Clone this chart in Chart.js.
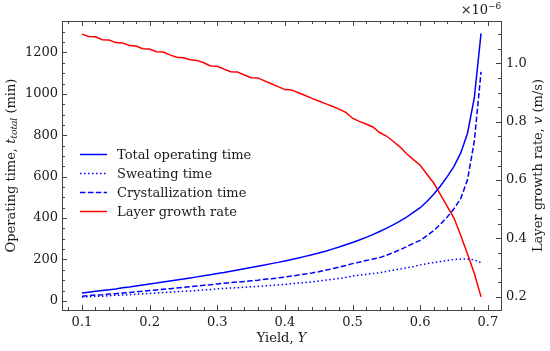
<!DOCTYPE html>
<html lang="en">
<head>
  <meta charset="UTF-8">
  <title>Operating time and layer growth rate vs yield</title>
  <script src="https://cdn.jsdelivr.net/npm/chart.js"></script>
  <style>
    html, body { margin: 0; padding: 0; background: #fff; }
    #wrap { width: 550px; height: 351px; }
  </style>
</head>
<body>
  <div id="wrap"><canvas id="myChart" width="550" height="351"></canvas></div>
  <script>
// yield Y (x axis)
const yieldY = [0.10, 0.11, 0.12, 0.13, 0.14, 0.15, 0.16, 0.17, 0.18, 0.19,
  0.20, 0.21, 0.22, 0.23, 0.24, 0.25, 0.26, 0.27, 0.28, 0.29,
  0.30, 0.31, 0.32, 0.33, 0.34, 0.35, 0.36, 0.37, 0.38, 0.39,
  0.40, 0.41, 0.42, 0.43, 0.44, 0.45, 0.46, 0.47, 0.48, 0.49,
  0.50, 0.51, 0.52, 0.53, 0.54, 0.55, 0.56, 0.57, 0.58, 0.59,
  0.60, 0.61, 0.62, 0.63, 0.64, 0.65, 0.66, 0.67, 0.68, 0.69];

// operating times (min)
const totalTime = [38, 42, 46, 50, 54, 58, 63, 67, 72, 77,
  82, 86, 91, 96, 101, 106, 111, 116, 121, 126,
  132, 137, 143, 149, 155, 161, 167, 173, 180, 186,
  193, 200, 207, 215, 223, 231, 240, 250, 260, 271,
  282, 294, 307, 320, 335, 350, 367, 385, 405, 427,
  450, 480, 515, 555, 600, 650, 715, 810, 980, 1292];

const sweatTime = [19, 20, 22, 23, 25, 27, 28, 30, 32, 34,
  36, 38, 40, 42, 44, 46, 48, 50, 53, 55,
  58, 60, 62, 64, 66, 68, 70, 72, 75, 77,
  80, 83, 86, 89, 92, 96, 100, 104, 108, 113,
  120, 124, 128, 132, 136, 142, 148, 154, 160, 166,
  174, 180, 185, 190, 195, 200, 202, 202, 198, 184];

const crystTime = [23, 25, 28, 30, 33, 35, 38, 41, 44, 47,
  50, 53, 56, 59, 62, 65, 68, 72, 75, 78,
  82, 85, 88, 91, 94, 97, 100, 104, 107, 111,
  115, 120, 125, 130, 135, 141, 148, 155, 163, 171,
  180, 187, 195, 202, 209, 220, 233, 247, 262, 278,
  292, 315, 340, 370, 405, 445, 495, 585, 770, 1106];

// layer growth rate, in 1e-6 m/s
const growthRate = [1.100, 1.092, 1.091, 1.081, 1.080, 1.071, 1.070, 1.061, 1.059, 1.050,
  1.049, 1.040, 1.039, 1.029, 1.021, 1.019, 1.012, 1.010, 1.002, 0.991,
  0.990, 0.980, 0.971, 0.970, 0.960, 0.951, 0.950, 0.940, 0.930, 0.920,
  0.910, 0.909, 0.899, 0.890, 0.880, 0.871, 0.862, 0.853, 0.843, 0.832,
  0.812, 0.801, 0.792, 0.782, 0.763, 0.751, 0.733, 0.714, 0.690, 0.670,
  0.651, 0.620, 0.590, 0.550, 0.510, 0.470, 0.410, 0.347, 0.281, 0.200];

const xTicks = [0.1, 0.2, 0.3, 0.4, 0.5, 0.6, 0.7];
const yTicks = [0, 200, 400, 600, 800, 1000, 1200];
const y1Ticks = [0.2, 0.4, 0.6, 0.8, 1.0];

const serif = "'DejaVu Serif', serif";
const pts = arr => arr.map((v, i) => ({ x: yieldY[i], y: v }));

// spines, inward ticks, legend and rich-text titles
const decor = {
  id: 'decor',
  afterDraw(chart) {
    const ctx = chart.ctx;
    const a = chart.chartArea;
    const sx = chart.scales.x, sy = chart.scales.y, sy1 = chart.scales.y1;
    ctx.save();
    ctx.strokeStyle = '#444';
    ctx.lineWidth = 1;
    ctx.strokeRect(Math.round(a.left) + 0.5, Math.round(a.top) + 0.5,
      Math.round(a.right - a.left), Math.round(a.bottom - a.top));

    function tickX(v, len) {
      const p = Math.round(sx.getPixelForValue(v)) + 0.5;
      ctx.beginPath();
      ctx.moveTo(p, a.bottom); ctx.lineTo(p, a.bottom - len);
      ctx.moveTo(p, a.top); ctx.lineTo(p, a.top + len);
      ctx.stroke();
    }
    function tickY(scale, v, len, left) {
      const p = Math.round(scale.getPixelForValue(v)) + 0.5;
      ctx.beginPath();
      if (left) { ctx.moveTo(a.left, p); ctx.lineTo(a.left + len, p); }
      else { ctx.moveTo(a.right, p); ctx.lineTo(a.right - len, p); }
      ctx.stroke();
    }
    for (let k = 4; k <= 35; k++) {
      const v = k * 0.02;
      if (v < sx.min || v > sx.max) continue;
      tickX(v, k % 5 === 0 ? 5 : 3);
    }
    for (let v = 0; v <= 1350; v += 50) tickY(sy, v, v % 200 === 0 ? 5 : 3, true);
    for (let k = 4; k <= 22; k++) {
      const v = k * 0.05;
      if (v < sy1.min || v > sy1.max) continue;
      tickY(sy1, v, k % 4 === 0 ? 5 : 3, false);
    }

    // legend
    const items = [
      { label: 'Total operating time', dash: [] },
      { label: 'Sweating time', dash: [1.5, 2.5] },
      { label: 'Crystallization time', dash: [5.5, 2.4] },
      { label: 'Layer growth rate', dash: [], red: true }
    ];
    ctx.font = '13px ' + serif;
    ctx.textBaseline = 'middle';
    ctx.textAlign = 'left';
    items.forEach((it, i) => {
      const y = 154.5 + i * 19;
      ctx.strokeStyle = it.red ? '#ff0000' : '#0000ff';
      ctx.lineWidth = 1.5;
      ctx.setLineDash(it.dash);
      ctx.beginPath(); ctx.moveTo(80, y); ctx.lineTo(107, y); ctx.stroke();
      ctx.setLineDash([]);
      ctx.fillStyle = '#1a1a1a';
      ctx.fillText(it.label, 117, y + 1);
    });

    function rich(parts, x, y, rot) {
      ctx.save();
      ctx.translate(x, y);
      if (rot) ctx.rotate(rot);
      ctx.textBaseline = 'middle';
      ctx.textAlign = 'left';
      let w = 0;
      parts.forEach(p => { ctx.font = p.f; w += ctx.measureText(p.t).width; });
      let cx = -w / 2;
      parts.forEach(p => {
        ctx.font = p.f;
        ctx.fillText(p.t, cx, p.dy || 0);
        cx += ctx.measureText(p.t).width;
      });
      ctx.restore();
    }
    ctx.fillStyle = '#1a1a1a';
    const n = '13px ' + serif, it = 'italic 13px ' + serif, sm = 'italic 9px ' + serif;
    const midY = (a.top + a.bottom) / 2;
    rich([{ t: 'Yield, ', f: n }, { t: 'Y', f: it }], (a.left + a.right) / 2, 339, 0);
    rich([{ t: 'Operating time, ', f: n }, { t: 't', f: it }, { t: 'total', f: sm, dy: 3 }, { t: ' (min)', f: n }],
      12, midY, -Math.PI / 2);
    rich([{ t: 'Layer growth rate, ', f: n }, { t: 'v', f: it }, { t: ' (m/s)', f: n }],
      539, midY, -Math.PI / 2);
    rich([{ t: '\u00d710', f: n }, { t: '\u22126', f: '9px ' + serif, dy: -4 }], 481, 11, 0);
    ctx.restore();
  }
};

const tickFont = { family: serif, size: 13 };
const ctx = document.getElementById('myChart').getContext('2d');
new Chart(ctx, {
  type: 'line',
  data: {
    datasets: [
      { label: 'Total operating time', data: pts(totalTime), yAxisID: 'y',
        borderColor: '#0000ff', borderWidth: 1.5 },
      { label: 'Sweating time', data: pts(sweatTime), yAxisID: 'y',
        borderColor: '#0000ff', borderWidth: 1.5, borderDash: [1.5, 2.5] },
      { label: 'Crystallization time', data: pts(crystTime), yAxisID: 'y',
        borderColor: '#0000ff', borderWidth: 1.5, borderDash: [5.5, 2.4] },
      { label: 'Layer growth rate', data: pts(growthRate), yAxisID: 'y1',
        borderColor: '#ff0000', borderWidth: 1.5 }
    ]
  },
  options: {
    responsive: false,
    animation: false,
    layout: { padding: { top: 21, left: 0, right: 0, bottom: 0 } },
    elements: { point: { radius: 0 }, line: { tension: 0, fill: false } },
    plugins: { legend: { display: false }, tooltip: { enabled: false } },
    scales: {
      x: {
        type: 'linear', min: 0.0705, max: 0.7195,
        grid: { display: false, drawTicks: false }, border: { display: false },
        afterBuildTicks: s => { s.ticks = xTicks.map(v => ({ value: v })); },
        afterFit: s => { s.height = 41; },
        ticks: { padding: 5, color: '#1a1a1a', font: tickFont,
          maxRotation: 0, callback: v => v.toFixed(1) }
      },
      y: {
        position: 'left', min: -44, max: 1352,
        grid: { display: false, drawTicks: false }, border: { display: false },
        afterBuildTicks: s => { s.ticks = yTicks.map(v => ({ value: v })); },
        afterFit: s => { s.width = 62; },
        ticks: { padding: 4, color: '#1a1a1a', font: tickFont, callback: v => String(v) }
      },
      y1: {
        position: 'right', min: 0.155, max: 1.145,
        grid: { display: false, drawTicks: false }, border: { display: false },
        afterBuildTicks: s => { s.ticks = y1Ticks.map(v => ({ value: v })); },
        afterFit: s => { s.width = 49; },
        ticks: { padding: 5, color: '#1a1a1a', font: tickFont,
          callback: v => v.toFixed(1) }
      }
    }
  },
  plugins: [decor]
});
  </script>
</body>
</html>
